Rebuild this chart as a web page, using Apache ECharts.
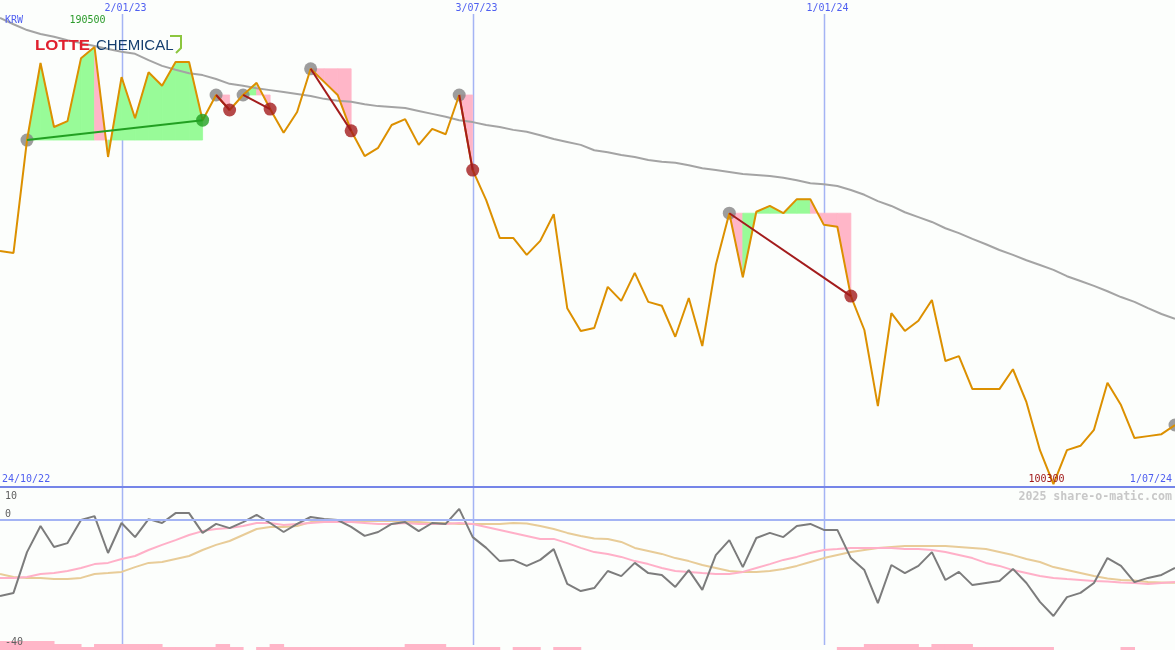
<!DOCTYPE html>
<html><head><meta charset="utf-8">
<script src="https://cdn.jsdelivr.net/npm/echarts@6/dist/echarts.min.js"></script>
<style>html,body{margin:0;padding:0;background:#fcfefc}#c{width:1175px;height:650px}</style>
</head><body><div id="c"></div><script>
// weekly closes, week index 1 = 31/10/22 ... 88 = 1/07/24
const closes=[148400,148000,171300,187200,174000,175200,188200,190500,167800,184300,
175800,185300,182500,187400,187400,175400,180600,177500,180600,183100,
177700,172800,177100,186000,183300,180600,173200,168000,169700,174400,
175600,170300,173600,172500,180600,165100,158900,151100,151100,147600,
150500,156000,136600,131900,132500,141000,138100,143900,137900,137100,
130700,138700,128800,145500,156200,143000,156500,157700,156200,159100,
159100,153800,153400,139100,132100,116400,135600,131900,134000,138300,
125700,126700,119900,119900,119900,124000,117200,107300,100300,107300,
108200,111500,121200,116600,109800,110200,110600,112500];
const movingAvg=[196500,195200,194000,193200,192600,191900,191300,190700,190100,189500,
189100,187800,186600,185800,185100,184700,183900,182900,182500,182000,
181600,181200,180800,180400,179800,179400,179200,178700,178300,178100,
177900,177300,176700,176100,175400,175000,174400,174000,173400,173000,
172300,171500,170900,170300,169200,168800,168200,167800,167200,166800,
166600,166100,165500,165100,164700,164300,164100,163900,163500,163000,
162400,162200,161800,161000,160000,158700,157700,156400,155400,154400,
153100,152100,150900,149800,148600,147600,146500,145500,144500,143200,
142200,141200,140100,138900,137900,136600,135400,134400];
const osc=[-25.3,-24.3,-10.7,-2,-9,-7.7,0,1.3,-11,-1,
-5.7,0.3,-1,2.3,2.3,-4.3,-1.3,-2.7,-0.7,1.7,
-1,-4,-1.3,1,0.3,0,-2.3,-5.3,-4,-1.3,
-0.7,-3.7,-1,-1.3,3.7,-5.7,-9.3,-13.7,-13.3,-15.3,
-13.3,-9.7,-21.3,-23.7,-22.7,-17,-18.7,-14.3,-17.7,-18.3,
-22.3,-16.7,-23.3,-11.7,-6.7,-15.7,-6,-4.3,-5.7,-2,
-1.3,-3.3,-3.3,-12.7,-16.7,-27.7,-15,-17.7,-15.3,-10.7,
-20,-17.3,-21.7,-21,-20.3,-16.3,-21,-27.3,-32,-25.7,
-24.3,-21,-12.7,-15.3,-20.7,-19.3,-18.3,-16];
const oscPink=[-19.3,-19.3,-19,-18,-17.7,-17,-16,-14.7,-14.3,-13,
-12,-10,-8.3,-6.7,-5,-3.7,-3,-2.7,-2,-1,
-1,-1.7,-1.3,-1,-0.7,-0.7,-0.7,-1,-1.3,-1.3,
-1,-1.3,-1.3,-1.3,-1,-1.3,-2.3,-3.3,-4.3,-5.3,
-6.3,-6.3,-7.7,-9.3,-10.7,-11.3,-12.3,-13.7,-14.7,-16,
-17,-17.3,-17.7,-18,-18,-17.3,-16,-14.7,-13.3,-12.3,
-11,-10,-9.7,-9.3,-9.3,-9.3,-9.3,-9.7,-9.7,-10,
-10.7,-11.7,-12.7,-14.3,-15.3,-16.7,-17.7,-18.7,-19.3,-19.7,
-20,-20.3,-20.5,-20.8,-21,-21.3,-21,-20.7];
const oscTan=[-18,-19,-19.3,-19.3,-19.7,-19.7,-19.3,-18,-17.7,-17.3,
-15.7,-14.3,-14,-13,-12,-10,-8.3,-7,-5,-3,
-2.3,-2.3,-2,-0.7,-0.7,-0.3,-0.3,-0.3,-0.3,-0.3,
-0.7,-0.7,-1,-1,-1.3,-1.3,-1.3,-1.3,-1,-1.2,
-2,-3,-4.3,-5.3,-6.2,-6.3,-7.3,-9.3,-10.3,-11.3,
-12.7,-13.7,-15,-16,-17,-17.3,-17.3,-17,-16.3,-15.3,
-14,-12.7,-11.7,-10.7,-10,-9.3,-9,-8.7,-8.7,-8.7,
-8.7,-9,-9.3,-9.7,-10.7,-11.7,-13,-14,-15.7,-16.7,
-17.7,-18.7,-19.5,-20,-20.2,-20.7,-20.8,-20.9];
const barLevels=[3,3,3,3,2,2,1,2,2,2,
2,2,1,1,1,1,2,1,0,1,
2,1,1,1,1,1,1,1,1,1,
2,2,2,1,1,1,1,0,1,1,
0,1,1,0,0,0,0,0,0,0,
0,0,0,0,0,0,0,0,0,0,
0,0,1,1,2,2,2,2,1,2,
2,2,1,1,1,1,1,1,0,0,
0,0,0,1,0,0,0,0];
const trades=[[3,16],[17,18],[19,21],[24,27],[35,36],[55,64]];
const openEntries=[88];
const dateLines=[[10,'2/01/23'],[36,'3/07/23'],[62,'1/01/24']];
const firstDate='24/10/22', lastDate='1/07/24';
const currency='KRW';
const oscTicks=[10,0,-40];
const watermark='2025 share-o-matic.com';

const P=i=>closes[i-1];
const N=closes.length;
const GREEN='#98fb98', PINK='#ffb6c8';

const fillData=[];
trades.forEach(([a,b])=>{const base=P(a);for(let k=a;k<b;k++)fillData.push([k,P(k),P(k+1),base]);});
const lineData=trades.map(([a,b])=>[a,P(a),b,P(b)]);
const entryPts=trades.map(t=>[t[0],P(t[0])]).concat(openEntries.map(i=>[i,P(i)]));
const winExits=trades.filter(([a,b])=>P(b)>P(a)).map(t=>[t[1],P(t[1])]);
const lossExits=trades.filter(([a,b])=>P(b)<=P(a)).map(t=>[t[1],P(t[1])]);
const idx=a=>a.map((v,i)=>[i+1,v]);

const chart=echarts.init(document.getElementById('c'),null,{renderer:'canvas'});
const MAINH=487;
chart.setOption({
  animation:false,
  backgroundColor:'#fcfefc',
  grid:[{left:0,right:0,top:0,height:MAINH},{left:0,right:0,top:MAINH,bottom:0}],
  xAxis:[{type:'value',gridIndex:0,min:1,max:N,show:false},{type:'value',gridIndex:1,min:1,max:N,show:false}],
  yAxis:[{type:'value',gridIndex:0,min:99700,max:200200,show:false},
         {type:'value',gridIndex:1,min:-43.333,max:11,show:false},
         {type:'value',gridIndex:1,min:0,max:54.333,show:false}],
  series:[
    {type:'custom',xAxisIndex:0,yAxisIndex:0,z:1,data:fillData,encode:{x:0,y:[1,2,3]},
     renderItem:(p,api)=>{const k=api.value(0),a=api.value(1),b=api.value(2),base=api.value(3);
       const c=b>=base?GREEN:PINK;
       return {type:'polygon',shape:{points:[api.coord([k,base]),api.coord([k,a]),api.coord([k+1,b]),api.coord([k+1,base])]},
         style:{fill:c,stroke:c,lineWidth:0.8}};}},
    {type:'scatter',xAxisIndex:0,yAxisIndex:0,z:2,data:entryPts,symbolSize:13,itemStyle:{color:'#858585'}},
    {type:'line',xAxisIndex:0,yAxisIndex:0,z:3,data:idx(movingAvg),symbol:'none',lineStyle:{color:'#a4a4a4',width:2}},
    {type:'line',xAxisIndex:0,yAxisIndex:0,z:4,data:idx(closes),symbol:'none',lineStyle:{color:'#dc9000',width:2}},
    {type:'custom',xAxisIndex:0,yAxisIndex:0,z:5,data:lineData,encode:{x:[0,2],y:[1,3]},
     renderItem:(p,api)=>{const a=api.coord([api.value(0),api.value(1)]),b=api.coord([api.value(2),api.value(3)]);
       return {type:'line',shape:{x1:a[0],y1:a[1],x2:b[0],y2:b[1]},style:{stroke:api.value(3)>api.value(1)?'#22a022':'#a31c1c',lineWidth:2}};}},
    {type:'scatter',xAxisIndex:0,yAxisIndex:0,z:6,data:lossExits,symbolSize:13,itemStyle:{color:'#a31c1c'}},
    {type:'scatter',xAxisIndex:0,yAxisIndex:0,z:6,data:winExits,symbolSize:13,itemStyle:{color:'#22a022'}},
    {type:'custom',xAxisIndex:1,yAxisIndex:2,z:1,data:barLevels.map((v,i)=>[i+1,v]),encode:{x:0,y:1},
     renderItem:(p,api)=>{const k=api.value(0),v=api.value(1);if(!v)return null;
       const a=api.coord([k,v]),b=api.coord([k+1,0]);
       return {type:'rect',shape:{x:a[0]-0.5,y:a[1],width:b[0]-a[0]+1,height:b[1]-a[1]},style:{fill:PINK}};}},
    {type:'line',xAxisIndex:1,yAxisIndex:1,z:2,data:idx(oscTan),symbol:'none',lineStyle:{color:'#e8cc98',width:2}},
    {type:'line',xAxisIndex:1,yAxisIndex:1,z:3,data:idx(oscPink),symbol:'none',lineStyle:{color:'#ffb0c8',width:2}},
    {type:'line',xAxisIndex:1,yAxisIndex:1,z:4,data:idx(osc),symbol:'none',lineStyle:{color:'#7c7c7c',width:2}}
  ]
});

const px=(i)=>chart.convertToPixel({xAxisIndex:0},i);
const mono='10px "DejaVu Sans Mono", monospace';
const blue='#4f5ff0';
const g=[];
dateLines.forEach(([i,lab])=>{const x=Math.round(px(i))+0.5;
  g.push({type:'line',z:0,shape:{x1:x,y1:14,x2:x,y2:645},style:{stroke:'#a4b4f4',lineWidth:1.5}});
  g.push({type:'text',z:100,x:x-18,y:8,style:{text:lab,font:mono,fill:blue,verticalAlign:'middle'}});
});
g.push({type:'line',z:50,shape:{x1:0,y1:487,x2:1175,y2:487},style:{stroke:'#7585e8',lineWidth:2}});
const y0=chart.convertToPixel({yAxisIndex:1},0);
g.push({type:'line',z:50,shape:{x1:0,y1:y0,x2:1175,y2:y0},style:{stroke:'#a4b4f4',lineWidth:2}});
g.push({type:'text',z:100,x:5,y:20,style:{text:currency,font:mono,fill:blue,verticalAlign:'middle'}});
let imax=0,imin=0;closes.forEach((v,i)=>{if(v>closes[imax])imax=i;if(v<closes[imin])imin=i;});
g.push({type:'text',z:100,x:px(imax+1)-7,y:20,style:{text:String(closes[imax]),font:mono,fill:'#2a9a2a',align:'center',verticalAlign:'middle'}});
g.push({type:'text',z:100,x:px(imin+1)-7,y:479,style:{text:String(closes[imin]),font:mono,fill:'#a01818',align:'center',verticalAlign:'middle'}});
g.push({type:'text',z:100,x:2,y:479,style:{text:firstDate,font:mono,fill:blue,verticalAlign:'middle'}});
g.push({type:'text',z:100,x:1172,y:479,style:{text:lastDate,font:mono,fill:blue,align:'right',verticalAlign:'middle'}});
g.push({type:'text',z:100,x:1172,y:497,style:{text:watermark,font:'bold 11.6px "DejaVu Sans Mono", monospace',fill:'#c8c8c8',align:'right',verticalAlign:'middle'}});
oscTicks.forEach(v=>{const y=chart.convertToPixel({yAxisIndex:1},v);
  const va=v>0?'top':(v===0?'bottom':'middle');
  g.push({type:'text',z:100,x:5,y:v===0?y-1:(v>0?y+1:y+2),style:{text:String(v),font:mono,fill:'#606060',verticalAlign:va}});
});
g.push({type:'text',z:100,x:35,y:46,scaleX:1.12,style:{text:'LOTTE',font:'bold 15px "Liberation Sans", Arial, sans-serif',fill:'#e0202e',verticalAlign:'middle'}});
g.push({type:'text',z:100,x:96,y:46,style:{text:'CHEMICAL',font:'15px "Liberation Sans", Arial, sans-serif',fill:'#153e6e',verticalAlign:'middle'}});
g.push({type:'polyline',z:100,shape:{points:[[170,36],[181,36],[181,48],[176,53]]},style:{stroke:'#8cc63f',lineWidth:2,fill:null}});
chart.setOption({graphic:{elements:g}});
</script></body></html>
